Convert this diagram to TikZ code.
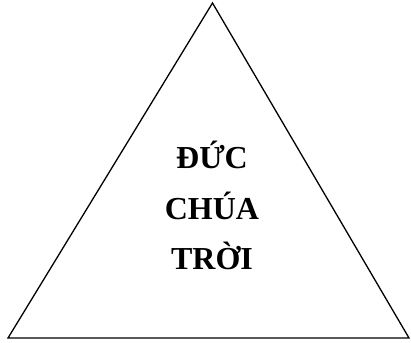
\documentclass[tikz,border=0pt]{standalone}
\usepackage{fontspec}
\setmainfont{Liberation Serif}
\begin{document}
\begin{tikzpicture}[x=1pt,y=-1pt,
  word/.style={font=\fontsize{32}{38}\selectfont\bfseries, anchor=base, inner sep=0pt}]
\useasboundingbox (0,0) rectangle (411,342);
\coordinate (top) at (212.5,3);
\coordinate (bl) at (8,338);
\coordinate (br) at (409,338);
\draw[line width=1.3pt, line join=miter] (top) -- (br) -- (bl) -- cycle;
\node[word] (w1) at (212,168) {ĐỨC};
\node[word] (w2) at (212,219) {CHÚA};
\node[word] (w3) at (212,269) {TRỜI};
\end{tikzpicture}
\end{document}
